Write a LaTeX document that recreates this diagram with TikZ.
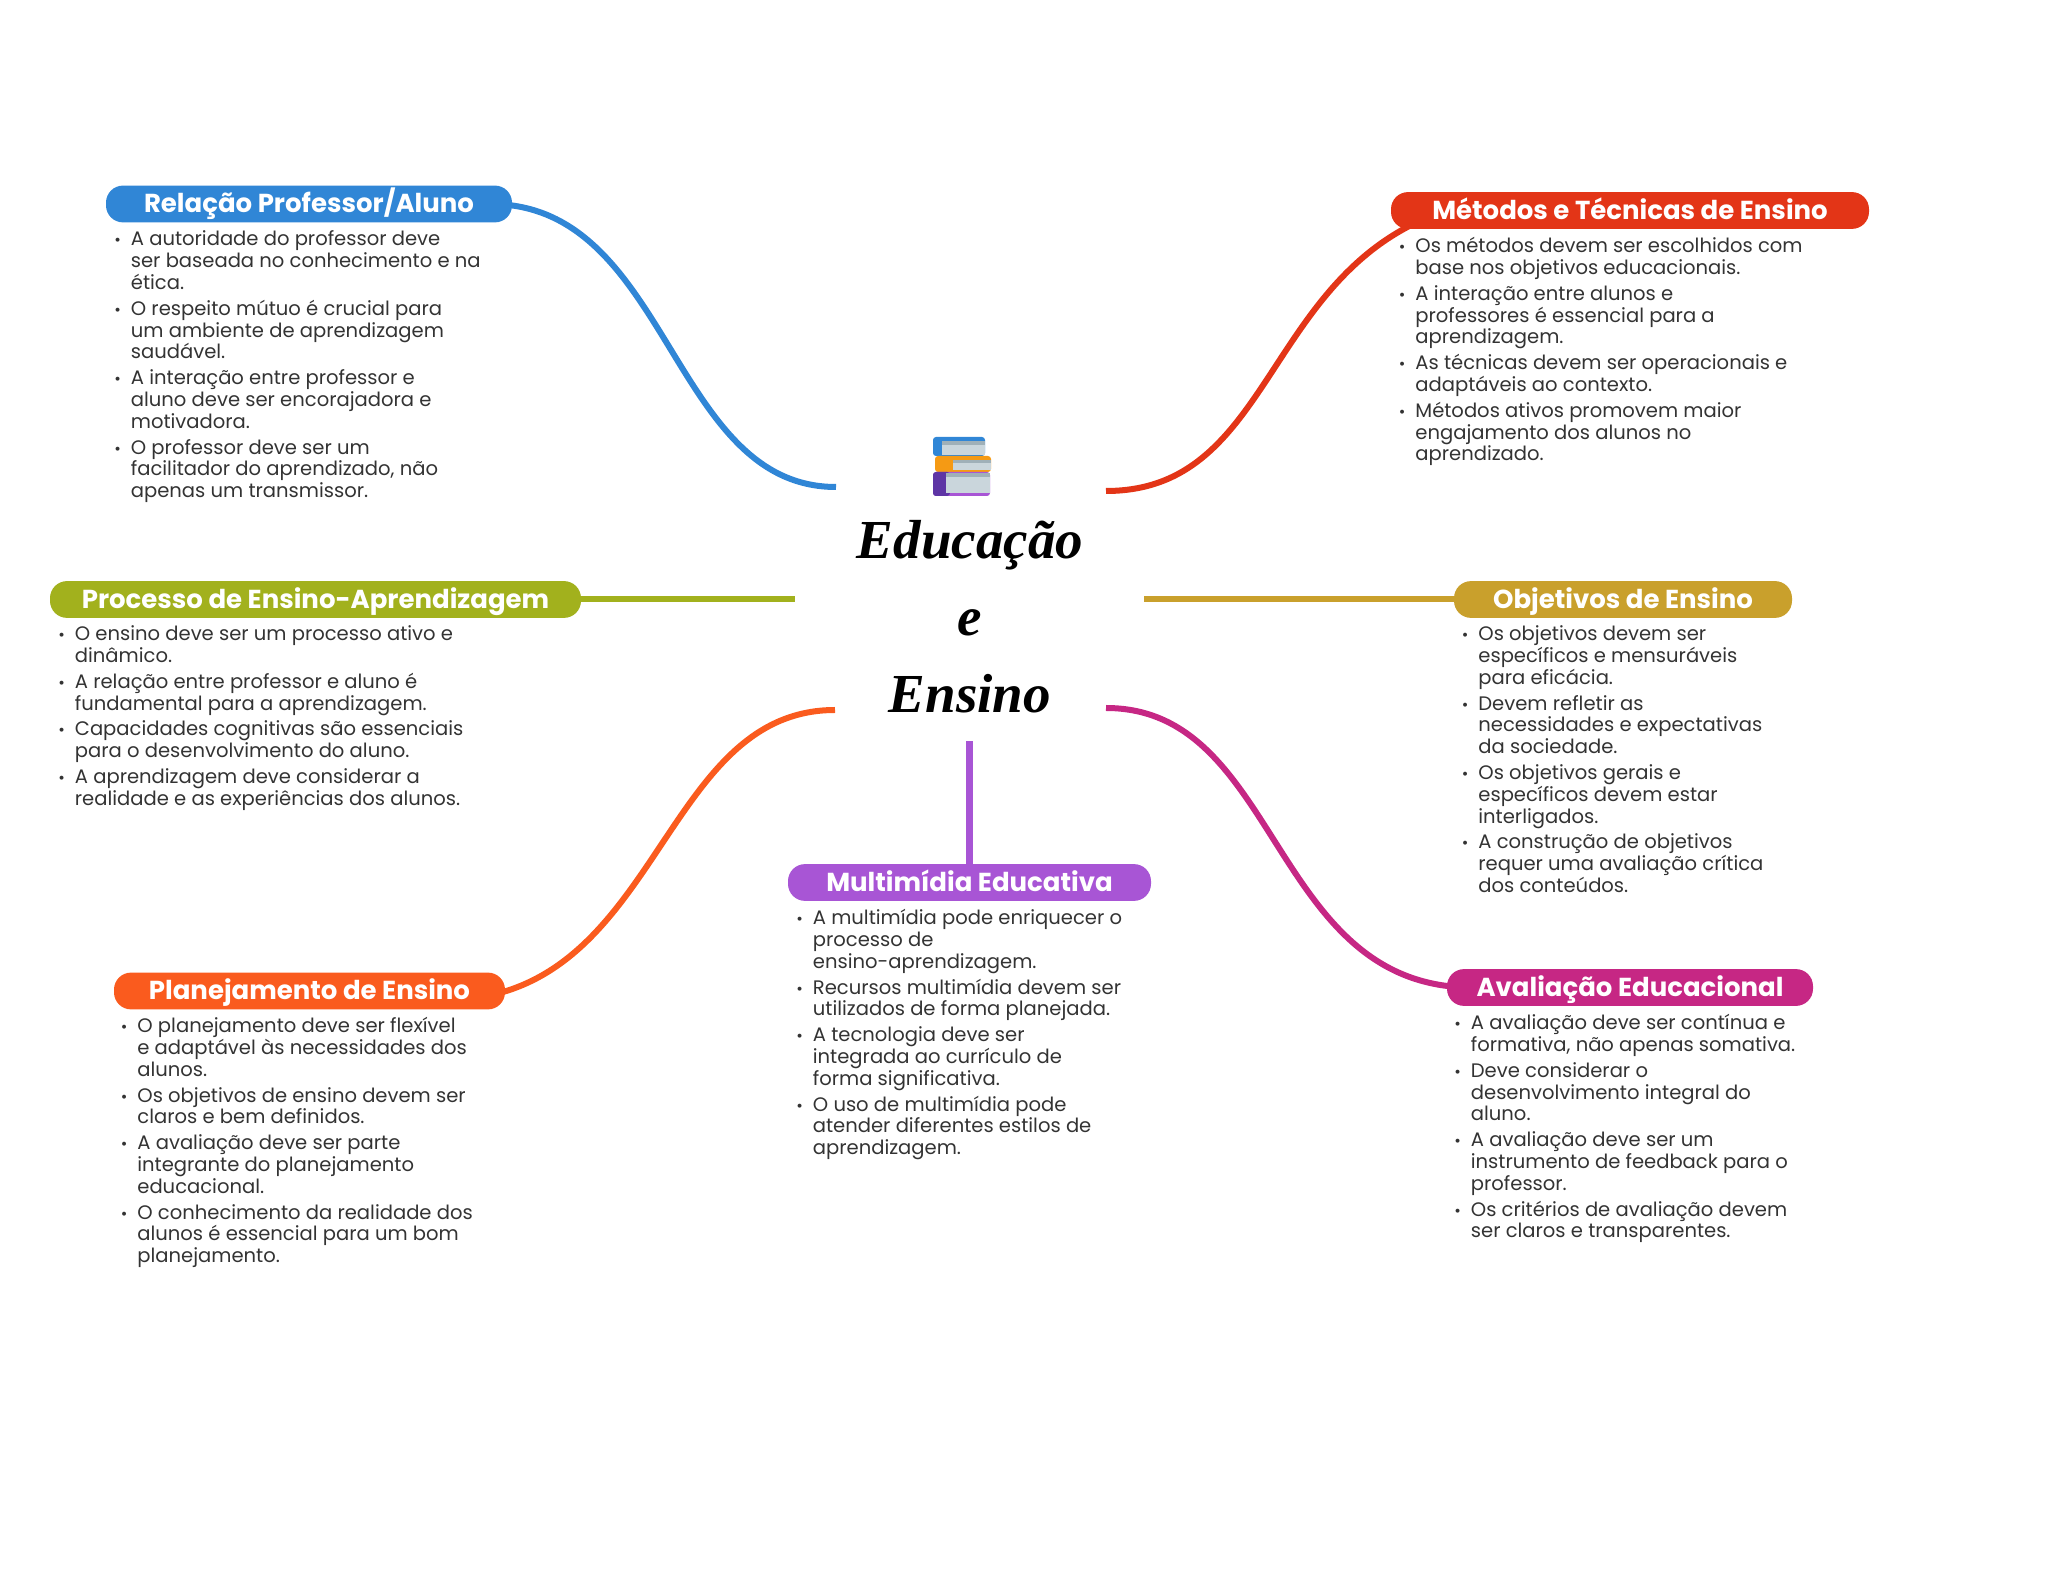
\documentclass[tikz,border=0pt]{standalone}
\usepackage{fontspec}
\setmainfont{Poppins}
\newfontfamily\hubfont{Liberation Serif}
\usetikzlibrary{backgrounds}
\definecolor{relacaoc}{HTML}{3086D6}
\definecolor{metodosc}{HTML}{E33517}
\definecolor{processoc}{HTML}{A2B11D}
\definecolor{objetivosc}{HTML}{C9A02C}
\definecolor{planejc}{HTML}{FA5B1E}
\definecolor{multic}{HTML}{A855D5}
\definecolor{avaliac}{HTML}{C62784}
\definecolor{bodyc}{HTML}{333333}
\definecolor{pagesc}{HTML}{CAD6DC}
\definecolor{edgec}{HTML}{9FB0B8}
\definecolor{orangec}{HTML}{F59A14}
\definecolor{spinec}{HTML}{5E35A5}
\newcommand{\itm}{\leavevmode\llap{{\fontsize{8}{8}\selectfont •}\hspace{5pt}}}
\tikzset{
  pill/.style={fill=#1, rounded corners=8.5pt, minimum height=18.4pt, inner sep=0pt,
    text=white, text height=11.65pt, text depth=2.7pt, font=\fontsize{13}{14}\selectfont\bfseries},
  branch/.style={line width=3pt, #1},
  notes/.style={anchor=north west, inner sep=0pt, align=left, text=bodyc,
    font=\fontsize{9.78}{10.9}\selectfont},
}
\begin{document}
\begin{tikzpicture}[scale=0.17573]
    \useasboundingbox (0,0) rectangle (204.8,-156.9);
    % branch titles
    \draw (30.9,-20.4) node [pill=relacaoc, minimum width=203pt] (relacao) {Relação Professor/Aluno};
    \draw (163,-21.05) node [pill=metodosc, minimum width=239pt] (metodos) {Métodos e Técnicas de Ensino};
    \draw (31.55,-59.95) node [pill=processoc, minimum width=265.5pt] (processo) {Processo de Ensino-Aprendizagem};
    \draw (162.3,-59.95) node [pill=objetivosc, minimum width=169pt] (objetivos) {Objetivos de Ensino};
    \draw (30.95,-99.1) node [pill=planejc, minimum width=195.5pt] (planej) {Planejamento de Ensino};
    \draw (96.95,-88.25) node [pill=multic, minimum width=181.5pt] (multi) {Multimídia Educativa};
    \draw (163,-98.75) node [pill=avaliac, minimum width=183pt] (avalia) {Avaliação Educacional};
    % free ends near the centre
    \coordinate (relacaoend) at (83.6,-48.7);
    \coordinate (metodosend) at (110.6,-49.1);
    \coordinate (processoend) at (79.5,-59.95);
    \coordinate (objetivosend) at (114.4,-59.95);
    \coordinate (planejend) at (83.5,-71);
    \coordinate (multiend) at (96.95,-74.1);
    \coordinate (avaliaend) at (110.6,-70.8);
    \begin{scope}[on background layer]
    \draw [branch=relacaoc] ([shift={(-2.2,0)}]relacao.east) .. controls (67,-20.4) and (67,-48.7) .. (relacaoend);
    \draw [branch=metodosc] (metodosend) .. controls (129,-49.1) and (126,-23) .. ([shift={(10.9,1.2)}]metodos.west);
    \draw [branch=processoc] (processo.east) -- (processoend);
    \draw [branch=objetivosc] (objetivos.west) -- (objetivosend);
    \draw [branch=planejc] ([shift={(-5.5,-0.9)}]planej.east) .. controls (66,-99.5) and (66,-71) .. (planejend);
    \draw [branch=multic, line width=3.4pt] (multi.north) -- (multiend);
    \draw [branch=avaliac] (avaliaend) .. controls (128,-70.8) and (127,-98.5) .. ([shift={(2.3,0)}]avalia.west);
    \end{scope}
    % centre
    \fill [rounded corners=1.5pt, relacaoc] (93.3,-43.7) -- (98.5,-43.7) -- (98.5,-45.6) -- (93.3,-45.6) -- cycle;
    \fill [pagesc] (94.2,-44.1) rectangle (98.5,-45.5);
    \fill [edgec] (94.2,-44.1) rectangle (98.5,-44.5);
    \fill [rounded corners=1.5pt, orangec] (93.5,-45.6) -- (99.1,-45.6) -- (99.1,-47.2) -- (93.5,-47.2) -- cycle;
    \fill [pagesc] (95.3,-46) rectangle (99.1,-47);
    \fill [edgec] (95.3,-46) rectangle (99.1,-46.3);
    \fill [rounded corners=1.5pt, multic] (93.3,-47.2) -- (99,-47.2) -- (99,-49.6) -- (93.3,-49.6) -- cycle;
    \fill [rounded corners=1.5pt, spinec] (93.3,-47.2) -- (95,-47.2) -- (95,-49.6) -- (93.3,-49.6) -- cycle;
    \fill [pagesc] (94.6,-47.3) rectangle (99,-49.3);
    \fill [edgec] (94.6,-47.3) rectangle (99,-47.7);
    \draw (97,-61.7) node [align=center, inner sep=0pt, text=black,
      font=\hubfont\itshape\bfseries\fontsize{27.5}{38.5}\selectfont] (hub) {Educação\\e\\Ensino};
    % notes
    \draw (13.05,-23.05) node [notes] (relacaotxt) {\itm A autoridade do professor deve\\
      ser baseada no conhecimento e na\\
      ética.\\[2pt]
      \itm O respeito mútuo é crucial para\\
      um ambiente de aprendizagem\\
      saudável.\\[2pt]
      \itm A interação entre professor e\\
      aluno deve ser encorajadora e\\
      motivadora.\\[2pt]
      \itm O professor deve ser um\\
      facilitador do aprendizado, não\\
      apenas um transmissor.};
    \draw (141.5,-23.7) node [notes] (metodostxt) {\itm Os métodos devem ser escolhidos com\\
      base nos objetivos educacionais.\\[2pt]
      \itm A interação entre alunos e\\
      professores é essencial para a\\
      aprendizagem.\\[2pt]
      \itm As técnicas devem ser operacionais e\\
      adaptáveis ao contexto.\\[2pt]
      \itm Métodos ativos promovem maior\\
      engajamento dos alunos no\\
      aprendizado.};
    \draw (7.45,-62.55) node [notes] (processotxt) {\itm O ensino deve ser um processo ativo e\\
      dinâmico.\\[2pt]
      \itm A relação entre professor e aluno é\\
      fundamental para a aprendizagem.\\[2pt]
      \itm Capacidades cognitivas são essenciais\\
      para o desenvolvimento do aluno.\\[2pt]
      \itm A aprendizagem deve considerar a\\
      realidade e as experiências dos alunos.};
    \draw (147.8,-62.55) node [notes] (objetivostxt) {\itm Os objetivos devem ser\\
      específicos e mensuráveis\\
      para eficácia.\\[2pt]
      \itm Devem refletir as\\
      necessidades e expectativas\\
      da sociedade.\\[2pt]
      \itm Os objetivos gerais e\\
      específicos devem estar\\
      interligados.\\[2pt]
      \itm A construção de objetivos\\
      requer uma avaliação crítica\\
      dos conteúdos.};
    \draw (13.7,-101.7) node [notes] (planejtxt) {\itm O planejamento deve ser flexível\\
      e adaptável às necessidades dos\\
      alunos.\\[2pt]
      \itm Os objetivos de ensino devem ser\\
      claros e bem definidos.\\[2pt]
      \itm A avaliação deve ser parte\\
      integrante do planejamento\\
      educacional.\\[2pt]
      \itm O conhecimento da realidade dos\\
      alunos é essencial para um bom\\
      planejamento.};
    \draw (81.25,-90.9) node [notes] (multitxt) {\itm A multimídia pode enriquecer o\\
      processo de\\
      ensino-aprendizagem.\\[2pt]
      \itm Recursos multimídia devem ser\\
      utilizados de forma planejada.\\[2pt]
      \itm A tecnologia deve ser\\
      integrada ao currículo de\\
      forma significativa.\\[2pt]
      \itm O uso de multimídia pode\\
      atender diferentes estilos de\\
      aprendizagem.};
    \draw (147.05,-101.4) node [notes] (avaliatxt) {\itm A avaliação deve ser contínua e\\
      formativa, não apenas somativa.\\[2pt]
      \itm Deve considerar o\\
      desenvolvimento integral do\\
      aluno.\\[2pt]
      \itm A avaliação deve ser um\\
      instrumento de feedback para o\\
      professor.\\[2pt]
      \itm Os critérios de avaliação devem\\
      ser claros e transparentes.};
\end{tikzpicture}
\end{document}
